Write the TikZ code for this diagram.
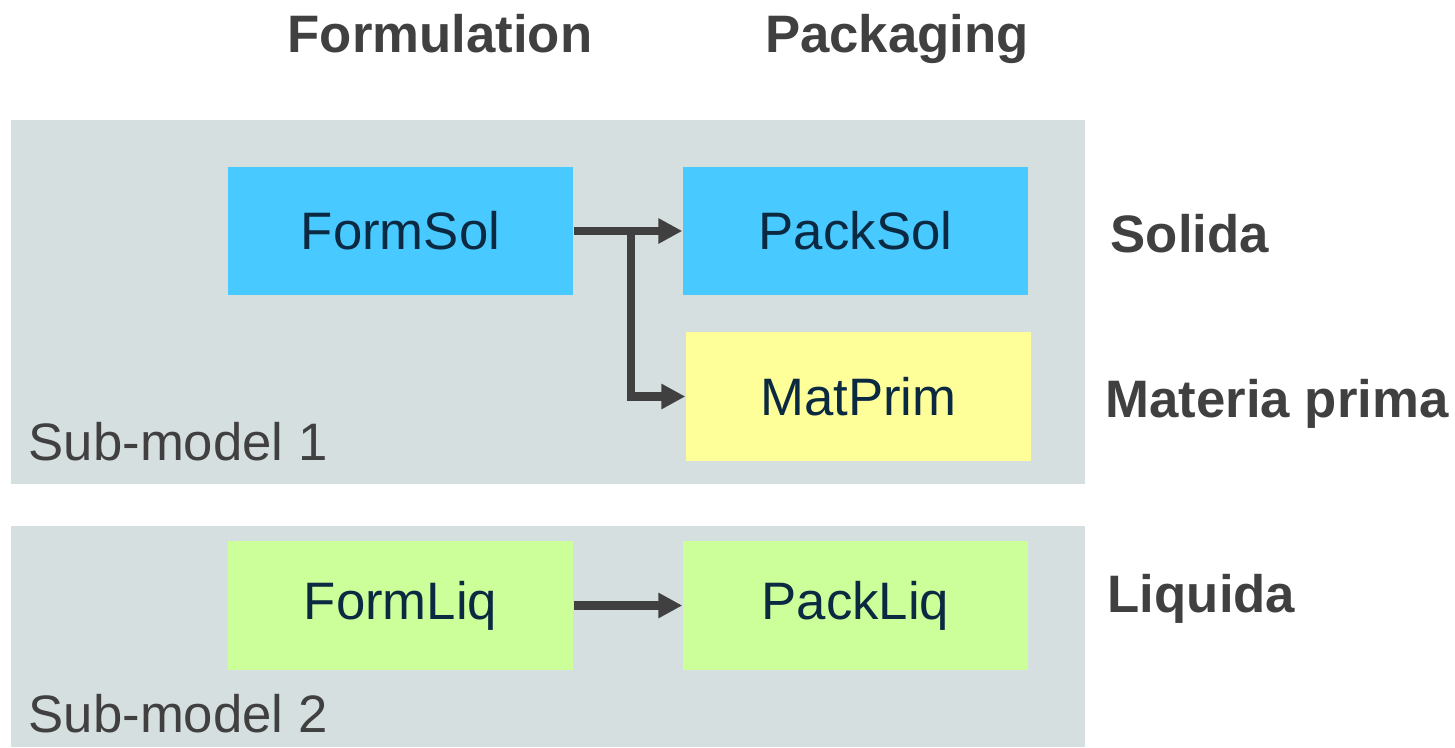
\documentclass[tikz,border=0pt]{standalone}
\usepackage{fontspec}
\setmainfont{Liberation Sans}
\usepackage{tikz}
\usetikzlibrary{arrows.meta}
\usepackage{xcolor}
\definecolor{panelgray}{HTML}{D6DFDF}
\definecolor{solblue}{HTML}{48C9FF}
\definecolor{matyellow}{HTML}{FFFF99}
\definecolor{liqgreen}{HTML}{CCFF99}
\definecolor{boxtext}{HTML}{0B2A42}
\definecolor{labelgray}{HTML}{404040}

\begin{document}
\begin{tikzpicture}[
		panel/.style={fill=panelgray,draw=none},
		modelbox/.style={rectangle,minimum width=3.45cm,minimum height=1.28cm,inner sep=0pt,text=boxtext,font=\fontsize{15}{18}\selectfont},
		headtext/.style={text=labelgray,inner sep=0pt,font=\fontsize{15}{18}\selectfont\bfseries},
		subtext/.style={text=labelgray,inner sep=0pt,anchor=base west,font=\fontsize{15}{18}\selectfont},
		flow/.style={draw=labelgray,line width=2.3pt,-{Triangle[length=0.24cm,width=0.24cm]}}
	]
			\useasboundingbox (0,0) rectangle (14.55,7.47);
			% panels
			\fill[panel] (0.11,2.63) rectangle (10.85,6.27);
			\fill[panel] (0.11,0) rectangle (10.85,2.21);
			% column and row headings
			\node[headtext,anchor=base] (hForm) at (4.40,6.94) {Formulation};
			\node[headtext,anchor=base] (hPack) at (8.97,6.94) {Packaging};
			\node[headtext,anchor=base west] (hSol) at (11.10,4.95) {Solida};
			\node[headtext,anchor=base west] (hMat) at (11.05,3.30) {Materia prima};
			\node[headtext,anchor=base west] (hLiq) at (11.07,1.35) {Liquida};
			\node[subtext] (sub1) at (0.28,2.87) {Sub-model 1};
			\node[subtext] (sub2) at (0.28,0.15) {Sub-model 2};
			% boxes
			\node[modelbox,fill=solblue] (FormSol) at (4.005,5.16) {FormSol};
			\node[modelbox,fill=solblue] (PackSol) at (8.555,5.16) {PackSol};
			\node[modelbox,fill=matyellow,minimum height=1.29cm] (MatPrim) at (8.585,3.505) {MatPrim};
			\node[modelbox,fill=liqgreen,minimum height=1.29cm] (FormLiq) at (4.005,1.415) {FormLiq};
			\node[modelbox,fill=liqgreen,minimum height=1.29cm] (PackLiq) at (8.555,1.415) {PackLiq};
			% arrows
			\draw[flow] (FormSol.east) -- (PackSol.west);
			\draw[flow] (FormSol.east) -- ++(0.57,0) |- (MatPrim.west);
			\draw[flow] (FormLiq.east) -- (PackLiq.west);
		\end{tikzpicture}
\end{document}
